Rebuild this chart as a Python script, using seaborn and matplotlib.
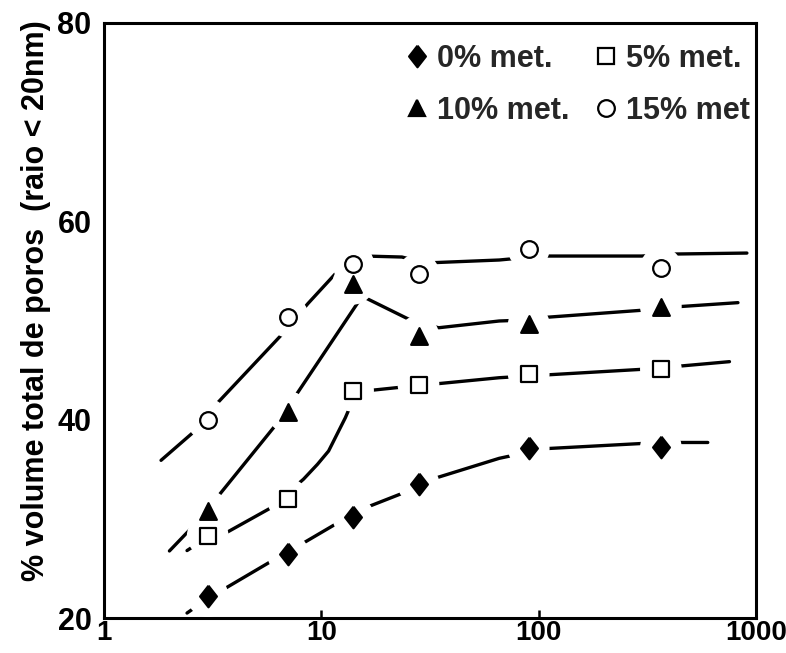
import numpy as np
import pandas as pd
import matplotlib
matplotlib.use('Agg')
import matplotlib.pyplot as plt
from matplotlib.lines import Line2D
import seaborn as sns

# idade dos ensaios (dias)
idade = [3, 7, 14, 28, 90, 365]

# pontos medidos - % volume total de poros (raio < 20nm)
met0 = [22.2, 26.5, 30.2, 33.5, 37.1, 37.2]
met5 = [28.3, 32.0, 42.9, 43.5, 44.6, 45.1]
met10 = [30.8, 40.8, 53.7, 48.4, 49.6, 51.4]
met15 = [40.0, 50.4, 55.7, 54.7, 57.2, 55.3]

# curvas de tendencia (tracadas a mao no original)
curva0_x = [2.41, 2.80, 3.43, 6.02, 8.12, 11.7, 15.9, 24.4, 32.3, 65.8, 106, 300, 427, 600]
curva0_y = [20.5, 21.5, 22.7, 25.85, 27.46, 29.5, 31.1, 32.7, 34.0, 36.1, 37.07, 37.6, 37.7, 37.7]
curva5_x = [2.41, 2.57, 3.70, 5.84, 8.28, 9.6, 10.8, 12.9, 13.8, 16.95, 23.9, 32.3, 65.8, 106, 300, 445, 755]
curva5_y = [26.8, 27.2, 28.67, 31.09, 34.0, 35.5, 36.84, 40.2, 41.7, 42.96, 43.3, 43.57, 44.23, 44.5, 45.08, 45.4, 45.85]
curva10_x = [2.0, 2.69, 6.22, 7.6, 14.9, 16.0, 27.2, 34.7, 65.8, 75.5, 102, 297, 417, 826]
curva10_y = [26.76, 29.7, 39.56, 42.39, 51.97, 52.27, 49.78, 49.27, 49.95, 50.0, 50.28, 51.03, 51.36, 51.8]
curva15_x = [1.83, 2.63, 3.30, 6.46, 8.67, 12.0, 15.9, 23.5, 30.1, 65.8, 103, 298, 413, 908]
curva15_y = [35.9, 38.9, 41.6, 48.4, 51.7, 55.06, 56.5, 56.4, 55.8, 56.1, 56.5, 56.5, 56.7, 56.8]

rotulos = ['0% met.', '5% met.', '10% met.', '15% met']

sns.set_theme(style='white')
plt.rcParams['font.family'] = ['Liberation Sans', 'DejaVu Sans']
plt.rcParams['font.weight'] = 'bold'

# tabela longa para as curvas
curvas = pd.concat([
    pd.DataFrame({'dias': curva0_x, 'vol': curva0_y, 'serie': rotulos[0]}),
    pd.DataFrame({'dias': curva5_x, 'vol': curva5_y, 'serie': rotulos[1]}),
    pd.DataFrame({'dias': curva10_x, 'vol': curva10_y, 'serie': rotulos[2]}),
    pd.DataFrame({'dias': curva15_x, 'vol': curva15_y, 'serie': rotulos[3]}),
])
pontos = pd.concat([
    pd.DataFrame({'dias': idade, 'vol': v, 'serie': r})
    for v, r in zip([met0, met5, met10, met15], rotulos)
])

fig = plt.figure(figsize=(7.86, 6.53), dpi=100)
ax = fig.add_axes([104 / 786, 1 - 618 / 653, (756 - 104) / 786, (618 - 23) / 653])

sns.lineplot(data=curvas, x='dias', y='vol', units='serie', estimator=None,
             sort=False, color='black', linewidth=2.4, ax=ax, zorder=2)

# mascara branca em volta dos pontos (linha interrompida no original)
sns.scatterplot(data=pontos, x='dias', y='vol', marker='o', s=30 ** 2,
                color='white', edgecolor='none', linewidth=0, ax=ax,
                zorder=3, legend=False)

losango = [(0, 1), (0.78, 0), (0, -1), (-0.78, 0), (0, 1)]
estilos = {
    '0% met.': dict(marker=losango, s=15.5 ** 2, color='black'),
    '5% met.': dict(marker='s', s=11.5 ** 2, color='white'),
    '10% met.': dict(marker='^', s=12 ** 2, color='black'),
    '15% met': dict(marker='o', s=12 ** 2, color='white'),
}
for v, r in zip([met0, met5, met10, met15], rotulos):
    st = estilos[r]
    sns.scatterplot(x=idade, y=v, marker=st['marker'], s=st['s'], color=st['color'],
                    edgecolor='black', linewidth=1.6, ax=ax, zorder=4, legend=False)

ax.set_xscale('log')
ax.set_xlim(1, 1000)
ax.set_ylim(20, 80)
ax.set_xticks([1, 10, 100, 1000])
ax.set_xticklabels(['1', '10', '100', '1000'])
ax.xaxis.set_minor_locator(matplotlib.ticker.NullLocator())
ax.set_yticks([20, 40, 60, 80])
ax.set_yticklabels(['20', '40', '60', '80'])
ax.tick_params(axis='x', direction='in', length=6, width=1.8, pad=1.5,
               labelsize=20, colors='black', bottom=True)
ax.tick_params(axis='y', length=0, pad=9, labelsize=22, colors='black')
for lab in ax.get_xticklabels() + ax.get_yticklabels():
    lab.set_fontweight('bold')
for sp in ax.spines.values():
    sp.set_color('black')
    sp.set_linewidth(2.2)

ax.set_xlabel('')
ax.set_ylabel('% volume total de poros  (raio < 20nm)', fontsize=22,
              fontweight='bold', color='black')
ax.yaxis.set_label_coords(-0.082, 0.534)

# legenda em duas colunas, sem moldura
def handle(r):
    st = estilos[r]
    ms = np.sqrt(st['s'])
    return Line2D([], [], linestyle='none', marker=st['marker'], markersize=ms,
                  markerfacecolor=st['color'], markeredgecolor='black',
                  markeredgewidth=1.6, label=r)

ordem = ['0% met.', '10% met.', '5% met.', '15% met']
leg = ax.legend(handles=[handle(r) for r in ordem], ncol=2, frameon=False,
                loc='upper left', bbox_to_anchor=(408 / 786, 1 - 44 / 653),
                bbox_transform=fig.transFigure, borderpad=0, borderaxespad=0,
                handlelength=0.6, handletextpad=0.35, columnspacing=0.9,
                labelspacing=0.72, prop={'size': 22, 'weight': 'bold'})

fig.savefig('out.png', dpi=100)
